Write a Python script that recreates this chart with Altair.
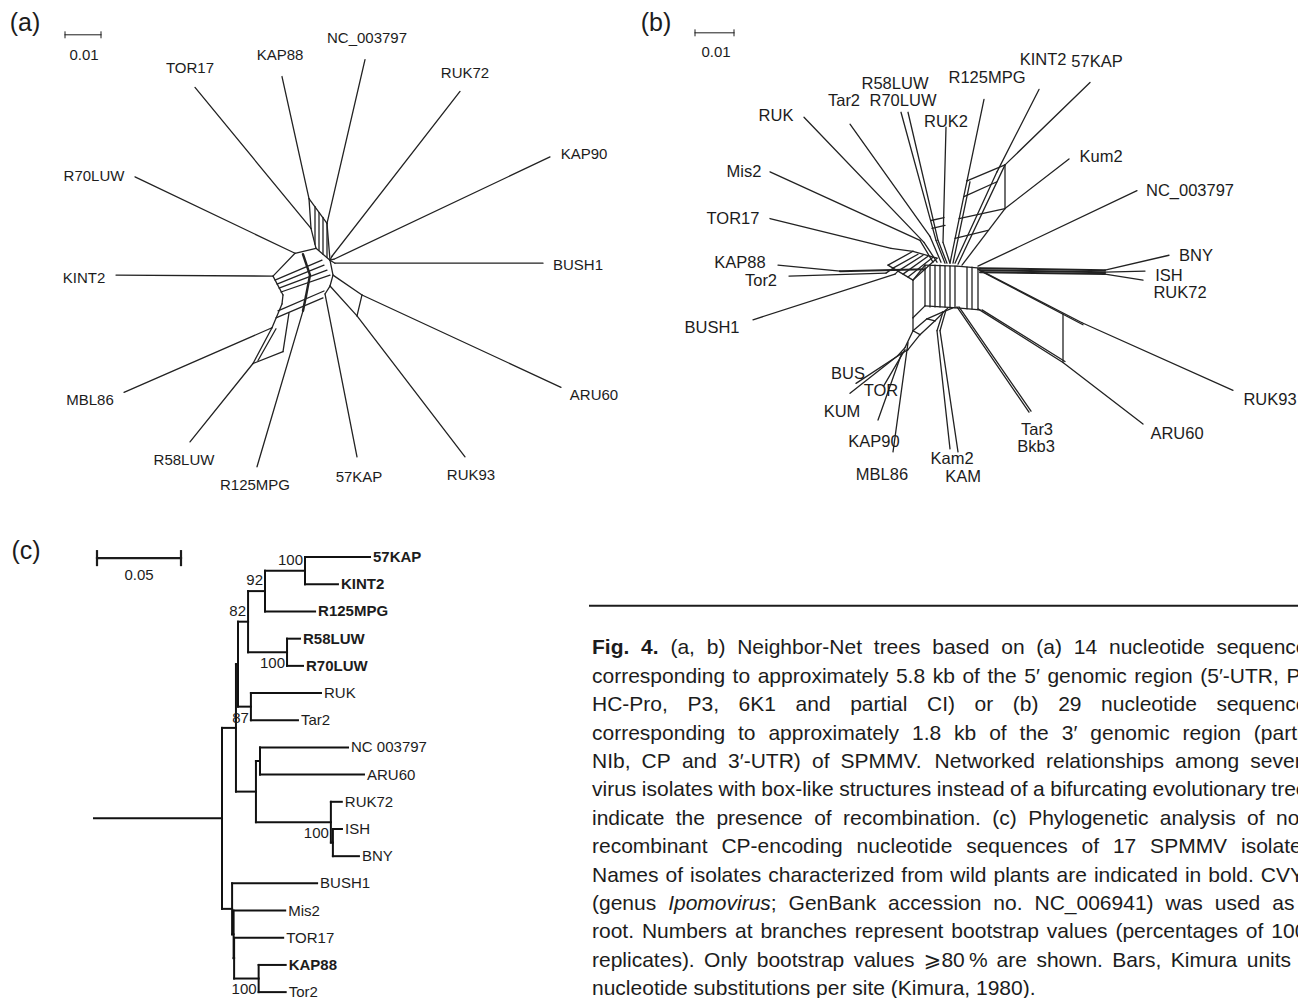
import altair as alt
import pandas as pd

FONT = "Liberation Sans, Arial, Helvetica, DejaVu Sans, sans-serif"
INK = "#1c1c1c"
NET = "#222222"

# ================= Panel (a): Neighbor-Net of 14 isolates (5' region) =================
A_NAMES   = ["TOR17", "KAP88", "NC_003797", "RUK72", "KAP90", "BUSH1", "ARU60",
             "RUK93", "57KAP", "R125MPG", "R58LUW", "MBL86", "KINT2", "R70LUW"]
A_LABEL_X = [190, 280, 367, 465, 584, 578, 594, 471, 359, 255, 184, 90, 84, 94]
A_LABEL_Y = [68, 55, 38, 73, 155, 267, 398, 478, 480, 488, 463, 403, 280, 177]
A_TIP_X   = [195, 282, 365, 460, 550, 543, 561, 465, 357, 257, 190, 124, 116, 135]
A_TIP_Y   = [88, 77, 60, 92, 158, 265, 390, 460, 460, 470, 445, 395, 277, 178]
A_NODE_X  = [311, 309, 327, 332, 334, 335, 362, 357, 325, 303, 253, 272, 273, 295]
A_NODE_Y  = [230, 200, 225, 258, 261, 265, 297, 318, 296, 313, 366, 330, 278, 255]
A_MESH = [
    [(309, 200), (327, 225), (330, 262)],
    [(309, 200), (311, 230), (316, 250), (330, 262)],
    [(315, 208), (315, 246)], [(319, 214), (319, 252)],
    [(323, 219), (323, 256)], [(327, 225), (327, 259)],
    [(273, 278), (295, 255), (316, 250)],
    [(275, 282), (322, 262)], [(277, 286), (324, 267)],
    [(279, 290), (327, 272)], [(281, 294), (330, 277)],
    [(273, 278), (283, 297), (282, 306), (272, 330)],
    [(330, 262), (333, 277), (330, 288), (325, 296)],
    [(330, 262), (332, 258)], [(330, 262), (334, 261)], [(330, 262), (335, 265)],
    [(333, 277), (362, 297), (357, 318), (330, 288)],
    [(278, 313), (324, 293)], [(276, 320), (323, 300)],
    [(272, 330), (253, 366), (283, 354), (289, 315)],
    [(276, 331), (258, 363)],
]
A_MESH_BOLD = [[(303, 313), (306, 298), (310, 277), (303, 256)]]

# ================= Panel (b): Neighbor-Net of 29 isolates (3' region) =================
B_NAMES   = ["RUK", "Tar2", "R58LUW", "R70LUW", "RUK2", "R125MPG", "KINT2", "57KAP",
             "Kum2", "NC_003797", "BNY", "ISH", "RUK72", "RUK93", "ARU60", "Tar3",
             "Bkb3", "Kam2", "KAM", "MBL86", "KAP90", "TOR", "KUM", "BUS", "BUSH1",
             "Tor2", "KAP88", "TOR17", "Mis2"]
B_LABEL_X = [776, 844, 895, 903, 946, 987, 1043, 1097, 1101, 1190, 1196, 1169, 1180,
             1270, 1177, 1037, 1036, 952, 963, 882, 874, 881, 842, 848, 712, 761, 740,
             733, 744]
B_LABEL_Y = [117, 102, 85, 102, 123, 78, 60, 62, 158, 192, 258, 278, 295, 403, 437,
             433, 450, 462, 480, 478, 445, 394, 415, 377, 330, 283, 265, 220, 173]
B_TIP_X   = [804, 850, 901, 908, 946, 984, 1039, 1090, 1069, 1137, 1169, 1145, 1143,
             1233, 1143, 1029, 1031, 950, 958, 893, 878, 884, 850, 856, 753, 789, 778,
             770, 770]
B_TIP_Y   = [118, 125, 113, 113, 128, 100, 90, 83, 160, 192, 257, 273, 282, 393, 427,
             415, 414, 452, 455, 455, 423, 388, 396, 386, 322, 278, 267, 220, 173]
B_NODE_X  = [924, 930, 936, 938, 943, 967, 997, 1005, 1005, 978, 1105, 1105, 1105,
             1082, 1063, 957, 959, 937, 940, 908, 902, 905, 898, 900, 895, 886, 840,
             891, 920]
B_NODE_Y  = [244, 238, 242, 242, 244, 182, 173, 166, 210, 268, 272, 274, 276, 325, 365,
             309, 309, 333, 333, 345, 355, 352, 358, 357, 276, 275, 273, 250, 242]
B_MESH = [
    [(924, 244), (937, 264)], [(930, 238), (941, 264)], [(936, 242), (945, 265)],
    [(938, 242), (947, 265)], [(943, 244), (950, 265)], [(920, 242), (933, 264)],
    [(891, 250), (913, 253)],
    [(931, 222), (944, 219)], [(932, 230), (945, 227)],
    [(967, 182), (950, 265)], [(970, 183), (953, 265)], [(997, 173), (955, 265)],
    [(1005, 166), (958, 266)], [(1005, 210), (962, 267)], [(1005, 166), (1005, 210)],
    [(967, 182), (1005, 166)], [(964, 198), (997, 183)], [(959, 220), (1005, 210)],
    [(955, 240), (988, 232)],
    [(888, 267), (913, 253), (937, 260), (913, 282), (888, 267)],
    [(893, 270), (918, 256)], [(898, 273), (923, 257)], [(903, 276), (928, 258)],
    [(908, 279), (933, 259)],
    [(886, 275), (893, 270)], [(895, 276), (898, 273)],
    [(913, 282), (925, 267), (957, 268), (980, 270)],
    [(913, 320), (925, 308), (957, 310), (980, 312)],
    [(913, 282), (913, 320)],
    [(925, 267), (925, 308)], [(930, 267), (930, 309)], [(935, 267), (935, 309)],
    [(940, 267), (940, 309)], [(945, 268), (945, 309)], [(950, 268), (950, 310)],
    [(955, 268), (955, 310)], [(967, 269), (967, 311)], [(972, 269), (972, 311)],
    [(978, 270), (978, 312)],
    [(978, 271), (1082, 325)], [(981, 273), (1083, 327)],
    [(978, 311), (1063, 365)], [(982, 312), (1065, 364)], [(1063, 316), (1063, 364)],
    [(953, 310), (943, 314), (927, 321), (913, 333), (905, 350), (898, 358)],
    [(948, 310), (935, 323), (920, 337), (908, 352), (900, 357)],
    [(927, 321), (935, 323)], [(913, 333), (920, 337)], [(913, 320), (913, 333)],
    [(937, 333), (943, 314)], [(940, 333), (946, 312)],
]
B_MESH_BOLD = [
    [(840, 273), (925, 271)],
    [(980, 270), (1105, 272)], [(980, 272), (1105, 274)], [(980, 274), (1105, 276)],
]

# ================= Panel (c): phylogenetic tree of CP sequences =================
C_BOLD = ["57KAP", "KINT2", "R125MPG", "R58LUW", "R70LUW", "KAP88"]


def Lf(name, b):
    return {"name": name, "b": b, "kids": [], "boot": None, "pos": None}


def Nd(b, kids, boot=None, pos=None):
    return {"name": None, "b": b, "kids": kids, "boot": boot, "pos": pos}


# branch lengths in substitutions per site (Kimura units)
C_TREE = Nd(0.0762, [
    Nd(0.0083, [
        Nd(0.0012, [
            Nd(0.0060, [
                Nd(0.0101, [
                    Nd(0.0238, [Lf("57KAP", 0.0387), Lf("KINT2", 0.0196)], 100, "above"),
                    Lf("R125MPG", 0.0298)], 92, "above"),
                Nd(0.0232, [Lf("R58LUW", 0.0077), Lf("R70LUW", 0.0095)], 100, "below")],
               82, "above"),
            Nd(0.0077, [Lf("RUK", 0.0417), Lf("Tar2", 0.0280)], 87, "below")]),
        Nd(0.0119, [
            Nd(0.0024, [Lf("NC 003797", 0.0524), Lf("ARU60", 0.0619)]),
            Nd(0.0446, [Lf("RUK72", 0.0065),
                        Nd(0.0012, [Lf("ISH", 0.0054), Lf("BNY", 0.0155)])], 100, "below")])]),
    Nd(0.0060, [
        Lf("BUSH1", 0.0506),
        Nd(0.0009, [
            Lf("Mis2", 0.0307),
            Nd(0.0003, [
                Lf("TOR17", 0.0292),
                Nd(0.0146, [Lf("KAP88", 0.0161), Lf("Tor2", 0.0161)], 100, "below")])])])])

# ================= Scale bars and panel tags =================
SB_X1 = [65, 695, 97]
SB_X2 = [101, 734, 181]
SB_Y = [35, 33, 562]
SB_TICK = [3, 3, 7]
SB_W = [1.0, 1.0, 2.2]
SB_TEXT = ["0.01", "0.01", "0.05"]
SB_TX = [84, 716, 139]
SB_TY = [55, 52, 579]
TAGS = ["(a)", "(b)", "(c)"]
TAG_X = [25, 656, 26]
TAG_Y = [23, 23, 555]

# ================= Caption =================
CAPTION = [
    [("Fig. 4.", "bold"), (" (a, b) Neighbor-Net trees based on (a) 14 nucleotide sequences", "normal")],
    [("corresponding to approximately 5.8 kb of the 5\u2032 genomic region (5\u2032-UTR, P1,", "normal")],
    [("HC-Pro, P3, 6K1 and partial CI) or (b) 29 nucleotide sequences", "normal")],
    [("corresponding to approximately 1.8 kb of the 3\u2032 genomic region (partial", "normal")],
    [("NIb, CP and 3\u2032-UTR) of SPMMV. Networked relationships among several", "normal")],
    [("virus isolates with box-like structures instead of a bifurcating evolutionary trees", "normal")],
    [("indicate the presence of recombination. (c) Phylogenetic analysis of non-", "normal")],
    [("recombinant CP-encoding nucleotide sequences of 17 SPMMV isolates.", "normal")],
    [("Names of isolates characterized from wild plants are indicated in bold. CVYV", "normal")],
    [("(genus ", "normal"), ("Ipomovirus", "italic"), ("; GenBank accession no. NC_006941) was used as a", "normal")],
    [("root. Numbers at branches represent bootstrap values (percentages of 1000", "normal")],
    [("replicates). Only bootstrap values \u2a7e80\u2009% are shown. Bars, Kimura units of", "normal")],
    [("nucleotide substitutions per site (Kimura, 1980).", "normal")],
]

# ---------------------------------------------------------------------------
# Helvetica/Arial advance widths (1/1000 em), ASCII 32..126
_W = [278, 278, 355, 556, 556, 889, 667, 191, 333, 333, 389, 584, 278, 333, 278, 278,
      556, 556, 556, 556, 556, 556, 556, 556, 556, 556,
      278, 278, 584, 584, 584, 556, 1015,
      667, 667, 722, 722, 667, 611, 778, 722, 278, 500, 667, 556, 833, 722, 778, 667,
      778, 722, 667, 611, 722, 667, 944, 667, 667, 611,
      278, 278, 278, 469, 556, 333,
      556, 556, 500, 556, 556, 278, 556, 556, 222, 222, 500, 222, 833, 556, 556, 556,
      556, 333, 500, 278, 556, 500, 722, 500, 500, 500,
      334, 260, 334, 584]
HELV = {chr(32 + i): w for i, w in enumerate(_W)}
HELV.update({"\u2032": 191, "\u2a7e": 838, "\u2009": 180})
HELV_BOLD = {"F": 611, "i": 278, "g": 611, ".": 278, "4": 556, " ": 278}


def text_width(s, style, size):
    tot = 0
    for ch in s:
        if style == "bold":
            tot += HELV_BOLD.get(ch, HELV.get(ch, 556) * 1.06)
        else:
            tot += HELV.get(ch, 556)
    return tot * size / 1000.0


segs = []
texts = []


def poly(pts, w=1.3, c=NET, kind="net"):
    for p, q in zip(pts[:-1], pts[1:]):
        segs.append({"x": p[0], "y": p[1], "x2": q[0], "y2": q[1], "w": w, "c": c, "kind": kind})


def label(x, y, s, size, weight="normal", style="normal", align="center", baseline="middle"):
    texts.append({"x": x, "y": y, "t": s, "size": size, "weight": weight,
                  "style": style, "align": align, "baseline": baseline})


# ---- panel (a)
for i, n in enumerate(A_NAMES):
    poly([(A_NODE_X[i], A_NODE_Y[i]), (A_TIP_X[i], A_TIP_Y[i])])
    label(A_LABEL_X[i], A_LABEL_Y[i], n, 15)
for pl in A_MESH:
    poly(pl)
for pl in A_MESH_BOLD:
    poly(pl, 2.4)

# ---- panel (b)
for i, n in enumerate(B_NAMES):
    poly([(B_NODE_X[i], B_NODE_Y[i]), (B_TIP_X[i], B_TIP_Y[i])])
    label(B_LABEL_X[i], B_LABEL_Y[i], n, 16.5)
for pl in B_MESH:
    poly(pl)
for pl in B_MESH_BOLD:
    poly(pl, 2.0)

# ---- scale bars & tags
for i in range(3):
    poly([(SB_X1[i], SB_Y[i]), (SB_X2[i], SB_Y[i])], SB_W[i], INK, "tree")
    for xx in (SB_X1[i], SB_X2[i]):
        poly([(xx, SB_Y[i] - SB_TICK[i]), (xx, SB_Y[i] + SB_TICK[i])], SB_W[i], INK, "tree")
    label(SB_TX[i], SB_TY[i], SB_TEXT[i], 15)
    label(TAG_X[i], TAG_Y[i], TAGS[i], 25)

# ---- panel (c) tree layout (maps tree distance and leaf order to the canvas)
TREE_X0, TREE_PX_PER_UNIT = 94, 1680
LEAF_Y0, LEAF_DY = 561, 27.38
TREE_W = 2.0
_leaf_counter = [0]


def layout(node, x_parent):
    x = x_parent + node["b"] * TREE_PX_PER_UNIT
    node["x"] = x
    if not node["kids"]:
        node["y"] = LEAF_Y0 + LEAF_DY * _leaf_counter[0]
        _leaf_counter[0] += 1
        return
    for k in node["kids"]:
        layout(k, x)
    node["y"] = (node["kids"][0]["y"] + node["kids"][-1]["y"]) / 2.0


def draw(node):
    if not node["kids"]:
        bold = node["name"] in C_BOLD
        label(node["x"] + 3, node["y"], node["name"], 15,
              weight="bold" if bold else "normal", align="left")
        return
    poly([(node["x"], node["kids"][0]["y"]), (node["x"], node["kids"][-1]["y"])],
         TREE_W, "#111111", "tree")
    for k in node["kids"]:
        poly([(node["x"], k["y"]), (k["x"], k["y"])], TREE_W, "#111111", "tree")
        draw(k)
    if node["boot"] is not None:
        dy = -11 if node["pos"] == "above" else 11
        label(node["x"] - 2, node["y"] + dy, str(node["boot"]), 15, align="right")


layout(C_TREE, TREE_X0)
poly([(TREE_X0, C_TREE["y"]), (C_TREE["x"], C_TREE["y"])], TREE_W, "#111111", "tree")
draw(C_TREE)

# ---- caption (justified)
CAP_LEFT, CAP_RIGHT, CAP_SIZE = 592, 1318, 21
CAP_BASE0, CAP_LEAD = 659, 28.6
poly([(590, 610), (1306, 610)], 2.0, INK, "tree")
for li, runs in enumerate(CAPTION):
    words, cur = [], []
    for txt, sty in runs:
        parts = txt.split(" ")
        for j, p in enumerate(parts):
            if j > 0 and cur:
                words.append(cur)
                cur = []
            if p:
                cur.append((p, sty))
    if cur:
        words.append(cur)
    widths = [sum(text_width(p, s, CAP_SIZE) for p, s in w) for w in words]
    space = text_width(" ", "normal", CAP_SIZE)
    if li < len(CAPTION) - 1 and len(words) > 1:
        gap = (CAP_RIGHT - CAP_LEFT - sum(widths)) / (len(words) - 1)
        gap = max(gap, 0.6 * space)
    else:
        gap = space
    x = CAP_LEFT
    yb = CAP_BASE0 + CAP_LEAD * li
    for w, wd in zip(words, widths):
        xx = x
        for p, s in w:
            label(xx, yb, p, CAP_SIZE, weight="bold" if s == "bold" else "normal",
                  style="italic" if s == "italic" else "normal", align="left",
                  baseline="alphabetic")
            xx += text_width(p, s, CAP_SIZE)
        x += wd + gap

# ---------------------------------------------------------------------------
sdf = pd.DataFrame(segs)
tdf = pd.DataFrame(texts)

xs = alt.Scale(domain=[8, 1298], nice=False, zero=False)
ys = alt.Scale(domain=[8, 1005], nice=False, zero=False, reverse=True)

layers = []
for kind, cap in (("net", "round"), ("tree", "square")):
    d = sdf[sdf["kind"] == kind]
    layers.append(
        alt.Chart(d).mark_rule(strokeCap=cap).encode(
            x=alt.X("x:Q", scale=xs, axis=None),
            y=alt.Y("y:Q", scale=ys, axis=None),
            x2="x2:Q", y2="y2:Q",
            strokeWidth=alt.StrokeWidth("w:Q", scale=None),
            color=alt.Color("c:N", scale=None),
        )
    )

for (align, baseline, weight, style), d in tdf.groupby(["align", "baseline", "weight", "style"]):
    layers.append(
        alt.Chart(d).mark_text(font=FONT, align=align, baseline=baseline,
                               fontWeight=weight, fontStyle=style, color=INK).encode(
            x=alt.X("x:Q", scale=xs, axis=None),
            y=alt.Y("y:Q", scale=ys, axis=None),
            text="t:N",
            size=alt.Size("size:Q", scale=None),
        )
    )

chart = alt.layer(*layers).properties(
    width=1290, height=990, padding=0,
    autosize=alt.AutoSizeParams(type="none"),
    background="white",
).configure_view(stroke=None)

chart.save("out.html", embed_options={"renderer": "svg", "actions": False})
